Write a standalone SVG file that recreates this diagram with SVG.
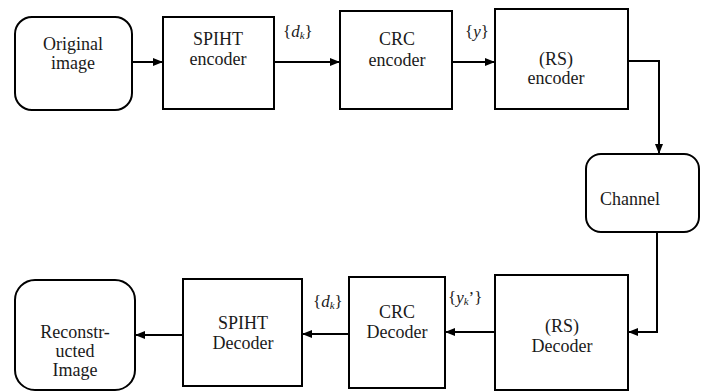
<svg xmlns="http://www.w3.org/2000/svg" width="707" height="392" viewBox="0 0 707 392" font-family="Liberation Serif, DejaVu Serif, serif">
  <defs>
    <marker id="arrow" viewBox="0 0 10 8" refX="10" refY="4" markerWidth="10" markerHeight="8" markerUnits="userSpaceOnUse" orient="auto">
      <path d="M0,0 L10,4 L0,8 Z" fill="#000"/>
    </marker>
    <style>
      .box { fill: #fff; stroke: #000; stroke-width: 2; }
      .lbl { font-size: 18px; fill: #1a1a1a; text-anchor: middle; }
      .sym { font-size: 17px; fill: #1a1a1a; }
      .it { font-style: italic; }
      .sub { font-size: 11px; font-style: italic; }
      .wire { fill: none; stroke: #000; stroke-width: 2; }
      .arr { marker-end: url(#arrow); }
    </style>
  </defs>
  <rect width="707" height="392" fill="#fff"/>

  <g id="connectors">
    <line class="wire arr" x1="132" y1="62" x2="163" y2="62"/>
    <line class="wire arr" x1="274" y1="62" x2="340" y2="62"/>
    <line class="wire arr" x1="452" y1="62" x2="495" y2="62"/>
    <polyline class="wire arr" points="628,61 659,61 659,154"/>
    <polyline class="wire arr" points="657,232 657,332 628,332"/>
    <line class="wire arr" x1="495" y1="332" x2="445" y2="332"/>
    <line class="wire arr" x1="349" y1="334" x2="302" y2="334"/>
    <line class="wire arr" x1="183" y1="335" x2="135" y2="335"/>
  </g>

  <g id="edge-labels">
    <text class="sym" x="283" y="37">{<tspan class="it">d</tspan><tspan class="sub" dy="2">k</tspan><tspan dy="-2">}</tspan></text>
    <text class="sym" x="465" y="37">{<tspan class="it">y</tspan>}</text>
    <text class="sym" x="448" y="303">{<tspan class="it">y</tspan><tspan class="sub" dy="2">k</tspan><tspan dy="-2">’}</tspan></text>
    <text class="sym" x="313" y="307">{<tspan class="it">d</tspan><tspan class="sub" dy="2">k</tspan><tspan dy="-2">}</tspan></text>
  </g>

  <g id="original-image">
    <rect class="box" x="15" y="17" width="117" height="93" rx="17"/>
    <text class="lbl" x="73" y="50">Original</text>
    <text class="lbl" x="73" y="69">image</text>
  </g>

  <g id="spiht-encoder">
    <rect class="box" x="163" y="17" width="111" height="92"/>
    <text class="lbl" x="218" y="45">SPIHT</text>
    <text class="lbl" x="218" y="65">encoder</text>
  </g>

  <g id="crc-encoder">
    <rect class="box" x="340" y="11" width="112" height="98"/>
    <text class="lbl" x="397" y="45">CRC</text>
    <text class="lbl" x="397" y="66">encoder</text>
  </g>

  <g id="rs-encoder">
    <rect class="box" x="495" y="9" width="133" height="100"/>
    <text class="lbl" x="556" y="65">(RS)</text>
    <text class="lbl" x="556" y="84">encoder</text>
  </g>

  <g id="channel">
    <rect class="box" x="586" y="154" width="113" height="78" rx="15"/>
    <text class="lbl" x="630" y="205">Channel</text>
  </g>

  <g id="rs-decoder">
    <rect class="box" x="495" y="275" width="133" height="115"/>
    <text class="lbl" x="562" y="332">(RS)</text>
    <text class="lbl" x="562" y="352">Decoder</text>
  </g>

  <g id="crc-decoder">
    <rect class="box" x="349" y="277" width="96" height="111"/>
    <text class="lbl" x="397" y="318">CRC</text>
    <text class="lbl" x="397" y="338">Decoder</text>
  </g>

  <g id="spiht-decoder">
    <rect class="box" x="183" y="279" width="119" height="107"/>
    <text class="lbl" x="243" y="329">SPIHT</text>
    <text class="lbl" x="243" y="349">Decoder</text>
  </g>

  <g id="reconstructed-image">
    <rect class="box" x="15" y="280" width="120" height="110" rx="20"/>
    <text class="lbl" x="75" y="338">Reconstr-</text>
    <text class="lbl" x="75" y="357">ucted</text>
    <text class="lbl" x="75" y="376">Image</text>
  </g>
</svg>
